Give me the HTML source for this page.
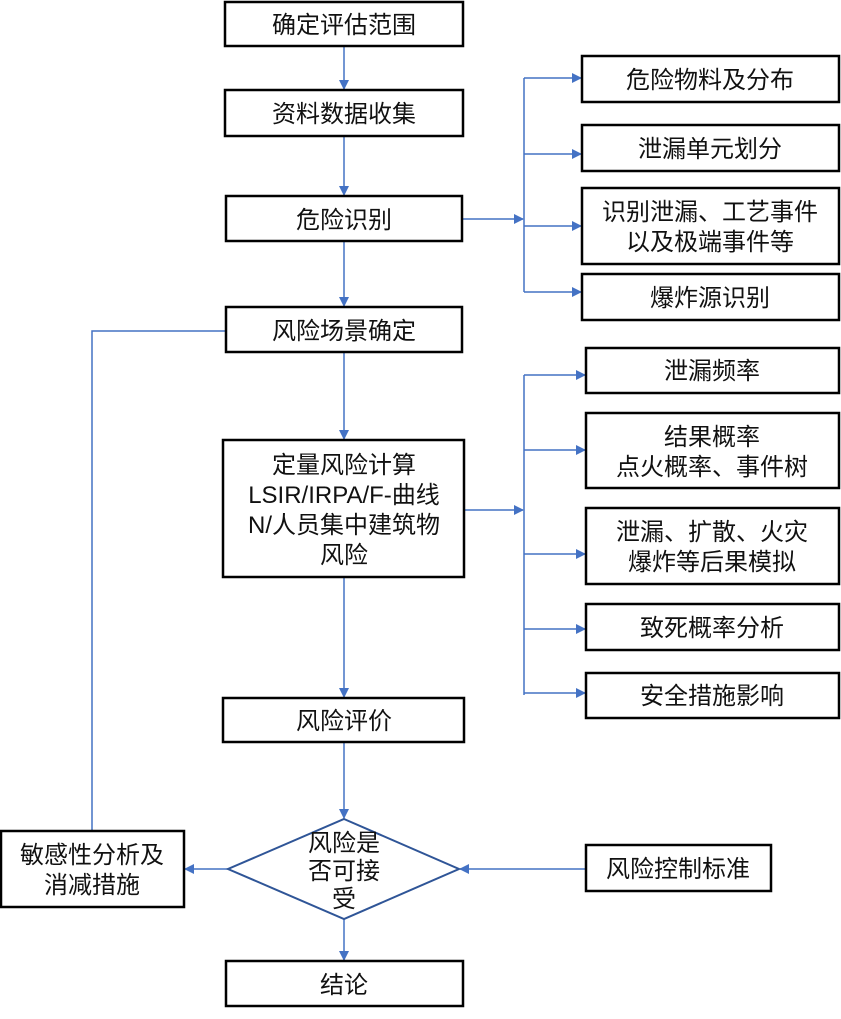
<!DOCTYPE html>
<html><head><meta charset="utf-8"><style>
body{margin:0;background:#fff}
svg text{font-family:"Liberation Sans","Noto Sans CJK SC",sans-serif;font-size:24px;fill:#111;text-anchor:middle}
</style></head><body>
<svg width="841" height="1014" xmlns="http://www.w3.org/2000/svg">
<defs><marker id="a" markerWidth="10" markerHeight="10" refX="9" refY="5" orient="auto" markerUnits="userSpaceOnUse"><path d="M0,0 L10,5 L0,10 z" fill="#4472C4"/></marker></defs>
<g stroke="#4472C4" stroke-width="1.5" fill="none">
<line x1="344" y1="46" x2="344" y2="89" marker-end="url(#a)"/>
<line x1="344" y1="136" x2="344" y2="195" marker-end="url(#a)"/>
<line x1="344" y1="241" x2="344" y2="306" marker-end="url(#a)"/>
<line x1="344" y1="352" x2="344" y2="439" marker-end="url(#a)"/>
<line x1="344" y1="577" x2="344" y2="697" marker-end="url(#a)"/>
<line x1="344" y1="742" x2="344" y2="818" marker-end="url(#a)"/>
<line x1="344" y1="919" x2="344" y2="960" marker-end="url(#a)"/>
<line x1="462" y1="219" x2="523" y2="219" marker-end="url(#a)"/>
<line x1="524" y1="78" x2="524" y2="292"/>
<line x1="524" y1="78" x2="581" y2="78" marker-end="url(#a)"/>
<line x1="524" y1="154" x2="581" y2="154" marker-end="url(#a)"/>
<line x1="524" y1="226" x2="581" y2="226" marker-end="url(#a)"/>
<line x1="524" y1="292" x2="581" y2="292" marker-end="url(#a)"/>
<line x1="464" y1="510" x2="523" y2="510" marker-end="url(#a)"/>
<line x1="524" y1="375" x2="524" y2="695"/>
<line x1="524" y1="375" x2="585" y2="375" marker-end="url(#a)"/>
<line x1="524" y1="450" x2="585" y2="450" marker-end="url(#a)"/>
<line x1="524" y1="554" x2="585" y2="554" marker-end="url(#a)"/>
<line x1="524" y1="629" x2="585" y2="629" marker-end="url(#a)"/>
<line x1="524" y1="693" x2="585" y2="693" marker-end="url(#a)"/>
<line x1="228" y1="869" x2="185" y2="869" marker-end="url(#a)"/>
<line x1="586" y1="869" x2="460" y2="869" marker-end="url(#a)"/>
<polyline points="92,831 92,331 226,331"/>
</g>
<polygon points="344,819 459,869 344,919 228,869" fill="#fff" stroke="#2F5597" stroke-width="2"/>
<g fill="#fff" stroke="#000" stroke-width="2.5">
<rect x="225" y="2" width="238" height="44"/>
<rect x="225" y="90" width="238" height="46"/>
<rect x="226" y="196" width="236" height="45"/>
<rect x="226" y="307" width="236" height="45"/>
<rect x="223" y="440" width="241" height="137"/>
<rect x="223" y="698" width="241" height="44"/>
<rect x="1" y="831" width="183" height="76"/>
<rect x="226" y="961" width="237" height="45"/>
<rect x="586" y="845" width="185" height="46"/>
<rect x="582" y="56" width="257" height="46"/>
<rect x="582" y="125" width="257" height="46"/>
<rect x="582" y="188" width="257" height="76"/>
<rect x="582" y="274" width="257" height="46"/>
<rect x="586" y="348" width="253" height="45"/>
<rect x="586" y="413" width="253" height="75"/>
<rect x="586" y="508" width="253" height="76"/>
<rect x="586" y="604" width="253" height="46"/>
<rect x="586" y="673" width="253" height="45"/>
</g>
<text x="344" y="33">确定评估范围</text>
<text x="344" y="122">资料数据收集</text>
<text x="344" y="228">危险识别</text>
<text x="344" y="339">风险场景确定</text>
<text x="344" y="473">定量风险计算</text>
<text x="344" y="503">LSIR/IRPA/F-曲线</text>
<text x="344" y="533">N/人员集中建筑物</text>
<text x="344" y="563">风险</text>
<text x="344" y="729">风险评价</text>
<text x="344" y="851">风险是</text>
<text x="344" y="879">否可接</text>
<text x="344" y="907">受</text>
<text x="92" y="863">敏感性分析及</text>
<text x="92" y="893">消减措施</text>
<text x="344" y="993">结论</text>
<text x="678" y="877">风险控制标准</text>
<text x="710" y="88">危险物料及分布</text>
<text x="710" y="157">泄漏单元划分</text>
<text x="710" y="220">识别泄漏、工艺事件</text>
<text x="710" y="250">以及极端事件等</text>
<text x="710" y="306">爆炸源识别</text>
<text x="712" y="379">泄漏频率</text>
<text x="712" y="445">结果概率</text>
<text x="712" y="475">点火概率、事件树</text>
<text x="712" y="540">泄漏、扩散、火灾</text>
<text x="712" y="570">爆炸等后果模拟</text>
<text x="712" y="636">致死概率分析</text>
<text x="712" y="704">安全措施影响</text>
</svg>
</body></html>
